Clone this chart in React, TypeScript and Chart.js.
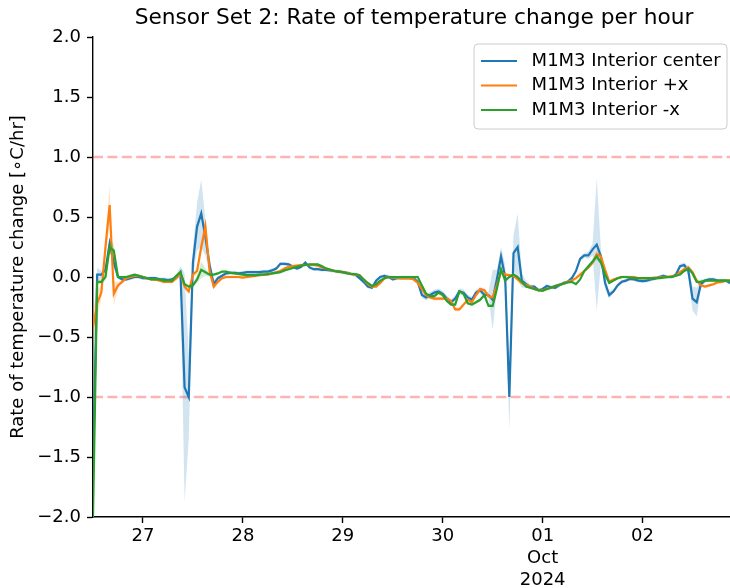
import React, { useEffect, useRef } from 'react';
import { Chart, registerables } from 'chart.js';

Chart.register(...registerables);

// Time axis: day numbers counted from September (Oct 1 = 31). First sample Sep 26 12:00, hourly.
const START_DAY = 26.5;
const STEP_HOURS = 1;

const centerRate = [
  -1.6, 0.02, 0.02, 0.06, 0.28, 0.12, 0.0, -0.02, -0.02, -0.01, 0.0, 0.0,
  -0.01, -0.01, -0.01, -0.01, -0.02, -0.02, -0.025, -0.02, 0.0, 0.04, -0.92, -1.0,
  0.12, 0.42, 0.53, 0.33, 0.1, -0.06, -0.01, 0.01, 0.03, 0.035, 0.035, 0.03,
  0.035, 0.04, 0.04, 0.04, 0.04, 0.045, 0.045, 0.055, 0.07, 0.11, 0.11, 0.105,
  0.085, 0.07, 0.085, 0.12, 0.08, 0.065, 0.065, 0.06, 0.06, 0.055, 0.05, 0.045,
  0.04, 0.035, 0.025, 0.02, -0.01, -0.04, -0.08, -0.09, -0.03, 0.0, 0.01, 0.0,
  -0.02, -0.01, -0.01, -0.01, -0.01, -0.01, -0.04, -0.15, -0.17, -0.15, -0.13, -0.12,
  -0.14, -0.18, -0.21, -0.18, -0.12, -0.13, -0.17, -0.19, -0.13, -0.11, -0.15, -0.15,
  -0.19, -0.02, 0.17, 0.0, -1.0, 0.2, 0.25, -0.03, -0.06, -0.08, -0.08, -0.11,
  -0.1, -0.075, -0.085, -0.09, -0.07, -0.05, -0.04, -0.01, 0.05, 0.15, 0.18, 0.18,
  0.23, 0.27, 0.17, -0.05, -0.15, -0.12, -0.07, -0.04, -0.03, -0.015, -0.02, -0.03,
  -0.035, -0.03, -0.02, -0.015, 0.0, 0.01, 0.0, 0.0, 0.02, 0.09, 0.1, 0.05,
  -0.18, -0.21, -0.06, -0.03, -0.02, -0.02, -0.03, -0.03, -0.03, -0.05,
];
const centerStd = [
  0.35, 0.06, 0.03, 0.04, 0.06, 0.04, 0.015, 0.015, 0.015, 0.015, 0.015, 0.015,
  0.015, 0.015, 0.015, 0.015, 0.015, 0.015, 0.015, 0.015, 0.02, 0.05, 0.95, 0.35,
  0.12, 0.2, 0.28, 0.15, 0.05, 0.03, 0.015, 0.015, 0.015, 0.015, 0.015, 0.015,
  0.015, 0.015, 0.015, 0.015, 0.015, 0.015, 0.015, 0.015, 0.015, 0.015, 0.015, 0.015,
  0.015, 0.015, 0.015, 0.015, 0.015, 0.015, 0.015, 0.015, 0.015, 0.015, 0.015, 0.015,
  0.015, 0.015, 0.015, 0.015, 0.015, 0.015, 0.015, 0.015, 0.015, 0.015, 0.015, 0.015,
  0.015, 0.015, 0.015, 0.015, 0.015, 0.015, 0.02, 0.025, 0.025, 0.025, 0.025, 0.025,
  0.025, 0.025, 0.025, 0.025, 0.025, 0.025, 0.025, 0.025, 0.025, 0.025, 0.025, 0.025,
  0.25, 0.08, 0.08, 0.1, 0.28, 0.15, 0.28, 0.06, 0.03, 0.015, 0.015, 0.015,
  0.015, 0.015, 0.015, 0.015, 0.015, 0.015, 0.015, 0.015, 0.015, 0.02, 0.02, 0.03,
  0.05, 0.55, 0.06, 0.05, 0.03, 0.015, 0.015, 0.015, 0.015, 0.015, 0.015, 0.015,
  0.015, 0.015, 0.015, 0.015, 0.015, 0.015, 0.015, 0.015, 0.015, 0.02, 0.02, 0.04,
  0.1, 0.12, 0.04, 0.015, 0.015, 0.015, 0.015, 0.015, 0.015, 0.015,
];

const plusXRate = [
  -0.42, -0.22, -0.13, 0.25, 0.6, -0.14, -0.07, -0.04, -0.01, 0.0, 0.01, 0.01,
  0.0, -0.01, -0.02, -0.02, -0.03, -0.04, -0.04, -0.04, -0.01, 0.03, -0.08, -0.12,
  0.02, 0.05, 0.25, 0.42, 0.05, -0.08, -0.04, -0.01, 0.0, 0.0, 0.0, 0.0,
  -0.005, 0.0, 0.005, 0.01, 0.015, 0.02, 0.02, 0.03, 0.04, 0.05, 0.07, 0.085,
  0.09, 0.095, 0.1, 0.1, 0.1, 0.1, 0.095, 0.08, 0.07, 0.06, 0.05, 0.045,
  0.04, 0.035, 0.025, 0.02, 0.015, -0.02, -0.06, -0.08, -0.08, -0.05, -0.01, 0.0,
  -0.005, -0.005, -0.01, -0.01, -0.01, -0.02, -0.05, -0.1, -0.15, -0.17, -0.18, -0.18,
  -0.18, -0.18, -0.2, -0.27, -0.27, -0.23, -0.19, -0.21, -0.15, -0.1, -0.11, -0.16,
  -0.17, -0.07, 0.04, 0.02, 0.015, 0.01, -0.02, -0.05, -0.07, -0.08, -0.1, -0.11,
  -0.11, -0.1, -0.09, -0.075, -0.065, -0.055, -0.04, -0.03, -0.01, 0.02, 0.05, 0.08,
  0.12, 0.19, 0.17, 0.06, -0.04, -0.02, -0.01, 0.0, 0.0, 0.0, 0.0, -0.01,
  -0.01, -0.01, -0.01, -0.005, -0.005, 0.0, 0.0, 0.005, 0.01, 0.04, 0.065, 0.08,
  0.04, -0.03, -0.07, -0.08, -0.07, -0.06, -0.045, -0.04, -0.03, -0.03,
];
const plusXStd = [
  0.15, 0.12, 0.06, 0.1, 0.16, 0.1, 0.03, 0.012, 0.012, 0.012, 0.012, 0.012,
  0.012, 0.012, 0.012, 0.012, 0.012, 0.012, 0.012, 0.012, 0.012, 0.012, 0.02, 0.02,
  0.02, 0.03, 0.05, 0.08, 0.04, 0.02, 0.012, 0.012, 0.012, 0.012, 0.012, 0.012,
  0.012, 0.012, 0.012, 0.012, 0.012, 0.012, 0.012, 0.012, 0.012, 0.012, 0.012, 0.012,
  0.012, 0.012, 0.012, 0.012, 0.012, 0.012, 0.012, 0.012, 0.012, 0.012, 0.012, 0.012,
  0.012, 0.012, 0.012, 0.012, 0.012, 0.012, 0.012, 0.012, 0.012, 0.012, 0.012, 0.012,
  0.012, 0.012, 0.012, 0.012, 0.012, 0.012, 0.012, 0.015, 0.015, 0.015, 0.015, 0.015,
  0.015, 0.015, 0.015, 0.015, 0.015, 0.015, 0.015, 0.015, 0.015, 0.015, 0.015, 0.015,
  0.015, 0.015, 0.015, 0.015, 0.012, 0.012, 0.012, 0.012, 0.012, 0.012, 0.012, 0.012,
  0.012, 0.012, 0.012, 0.012, 0.012, 0.012, 0.012, 0.012, 0.012, 0.012, 0.012, 0.015,
  0.02, 0.03, 0.03, 0.02, 0.012, 0.012, 0.012, 0.012, 0.012, 0.012, 0.012, 0.012,
  0.012, 0.012, 0.012, 0.012, 0.012, 0.012, 0.012, 0.012, 0.012, 0.012, 0.012, 0.015,
  0.015, 0.015, 0.012, 0.012, 0.012, 0.012, 0.012, 0.012, 0.012, 0.012,
];

const minusXRate = [
  -2.0, -0.04, -0.04, 0.0, 0.25, 0.22, 0.0, 0.0, 0.0, 0.01, 0.02, 0.01,
  0.0, -0.01, -0.02, -0.02, -0.02, -0.03, -0.03, -0.03, 0.01, 0.04, -0.06, -0.08,
  -0.07, -0.02, 0.06, 0.04, 0.02, 0.02, 0.03, 0.045, 0.045, 0.035, 0.03, 0.025,
  0.02, 0.015, 0.015, 0.015, 0.02, 0.02, 0.025, 0.03, 0.035, 0.04, 0.055, 0.065,
  0.075, 0.085, 0.095, 0.1, 0.105, 0.105, 0.105, 0.09, 0.07, 0.06, 0.05, 0.045,
  0.04, 0.03, 0.025, 0.025, 0.015, -0.02, -0.05, -0.075, -0.06, -0.03, -0.01, 0.0,
  0.0, 0.0, 0.0, 0.0, 0.0, 0.0, 0.0, -0.07, -0.14, -0.16, -0.16, -0.13,
  -0.15, -0.2, -0.23, -0.23, -0.12, -0.14, -0.22, -0.23, -0.21, -0.19, -0.15, -0.24,
  -0.24, -0.1, 0.065, -0.03, 0.0, 0.02, 0.0, -0.04, -0.08, -0.09, -0.1, -0.11,
  -0.115, -0.1, -0.09, -0.075, -0.065, -0.055, -0.045, -0.04, -0.06, -0.02, 0.05, 0.09,
  0.13, 0.17, 0.12, 0.02, -0.05, -0.03, -0.01, 0.0, 0.0, -0.005, -0.01, -0.01,
  -0.01, -0.01, -0.01, -0.01, -0.01, -0.005, 0.0, 0.0, 0.01, 0.02, 0.05, 0.07,
  0.03, -0.04, -0.04, -0.03, -0.03, -0.03, -0.03, -0.03, -0.03, -0.03,
];
const minusXStd = [
  0.1, 0.02, 0.02, 0.03, 0.06, 0.05, 0.015, 0.01, 0.01, 0.01, 0.01, 0.01,
  0.01, 0.01, 0.01, 0.01, 0.01, 0.01, 0.01, 0.01, 0.01, 0.01, 0.015, 0.015,
  0.02, 0.03, 0.07, 0.03, 0.015, 0.01, 0.01, 0.01, 0.01, 0.01, 0.01, 0.01,
  0.01, 0.01, 0.01, 0.01, 0.01, 0.01, 0.01, 0.01, 0.01, 0.01, 0.01, 0.01,
  0.01, 0.01, 0.01, 0.01, 0.01, 0.01, 0.01, 0.01, 0.01, 0.01, 0.01, 0.01,
  0.01, 0.01, 0.01, 0.01, 0.01, 0.01, 0.01, 0.01, 0.01, 0.01, 0.01, 0.01,
  0.01, 0.01, 0.01, 0.01, 0.01, 0.01, 0.01, 0.012, 0.012, 0.012, 0.012, 0.012,
  0.012, 0.012, 0.012, 0.012, 0.012, 0.012, 0.012, 0.012, 0.012, 0.012, 0.012, 0.012,
  0.012, 0.012, 0.02, 0.015, 0.01, 0.01, 0.01, 0.01, 0.01, 0.01, 0.01, 0.01,
  0.01, 0.01, 0.01, 0.01, 0.01, 0.01, 0.01, 0.01, 0.01, 0.01, 0.01, 0.015,
  0.02, 0.03, 0.02, 0.015, 0.01, 0.01, 0.01, 0.01, 0.01, 0.01, 0.01, 0.01,
  0.01, 0.01, 0.01, 0.01, 0.01, 0.01, 0.01, 0.01, 0.01, 0.01, 0.01, 0.01,
  0.01, 0.01, 0.01, 0.01, 0.01, 0.01, 0.01, 0.01, 0.01, 0.01,
];

const seriesNames = ['M1M3 Interior center', 'M1M3 Interior +x', 'M1M3 Interior -x'];
const seriesColors = ['#1f77b4', '#ff7f0e', '#2ca02c'];
const bandColors = ['rgba(31,119,180,0.2)', 'rgba(255,127,14,0.2)', 'rgba(44,160,44,0.2)'];

const limitLines = [1, -1];
const xTickValues = [27, 28, 29, 30, 31, 32];
const xTickLabels: (string | string[])[] = ['27', '28', '29', '30', ['01', 'Oct', '2024'], '02'];
const yTickValues = [-2, -1.5, -1, -0.5, 0, 0.5, 1, 1.5, 2];

const TITLE = 'Sensor Set 2: Rate of temperature change per hour';
const Y_LABEL = 'Rate of temperature change [\u2218C/hr]';
const FONT = '"DejaVu Sans", sans-serif';

export default function App() {
  const ref = useRef<HTMLCanvasElement | null>(null);

  useEffect(() => {
    document.body.style.margin = '0';
    const canvas = ref.current;
    if (!canvas) return;

    const times = centerRate.map((_, i) => START_DAY + (i * STEP_HOURS) / 24);
    const endDay = times[times.length - 1];
    const pts = (vals: number[]) => vals.map((v, i) => ({ x: times[i], y: v }));
    const lo = (vals: number[], sd: number[]) => vals.map((v, i) => ({ x: times[i], y: v - sd[i] }));
    const hi = (vals: number[], sd: number[]) => vals.map((v, i) => ({ x: times[i], y: v + sd[i] }));

    const series = [
      [centerRate, centerStd],
      [plusXRate, plusXStd],
      [minusXRate, minusXStd],
    ];

    const datasets: any[] = [];
    limitLines.forEach((lv) => {
      datasets.push({
        label: 'limit',
        data: [{ x: START_DAY, y: lv }, { x: endDay, y: lv }],
        borderColor: 'rgba(255,0,0,0.3)',
        borderWidth: 2.7,
        borderDash: [10, 4.4],
        pointRadius: 0,
        fill: false,
        order: 20,
      });
    });
    series.forEach(([vals, sd], k) => {
      const baseOrder = 12 - k * 3;
      datasets.push({
        label: 'band-lo',
        data: lo(vals, sd),
        borderWidth: 0,
        borderColor: 'rgba(0,0,0,0)',
        pointRadius: 0,
        fill: false,
        order: baseOrder + 1,
      });
      datasets.push({
        label: 'band-hi',
        data: hi(vals, sd),
        borderWidth: 0,
        borderColor: 'rgba(0,0,0,0)',
        backgroundColor: bandColors[k],
        pointRadius: 0,
        fill: '-1',
        order: baseOrder + 1,
      });
      datasets.push({
        label: seriesNames[k],
        data: pts(vals),
        borderColor: seriesColors[k],
        borderWidth: 2.2,
        pointRadius: 0,
        fill: false,
        tension: 0,
        order: baseOrder,
      });
    });

    const textPlugin = {
      id: 'textPlugin',
      afterDraw(chart: any) {
        const ctx = chart.ctx;
        ctx.save();
        ctx.fillStyle = '#000';
        // title
        ctx.font = `21.7px ${FONT}`;
        ctx.textAlign = 'center';
        ctx.textBaseline = 'middle';
        ctx.fillText(TITLE, 414, 18);
        // y label
        ctx.save();
        ctx.translate(18, 277);
        ctx.rotate(-Math.PI / 2);
        ctx.font = `18px ${FONT}`;
        ctx.fillText(Y_LABEL, 0, 0);
        ctx.restore();
        // legend
        const bx = 474, by = 44, bw = 253, bh = 85, r = 4;
        ctx.beginPath();
        ctx.moveTo(bx + r, by);
        ctx.lineTo(bx + bw - r, by);
        ctx.quadraticCurveTo(bx + bw, by, bx + bw, by + r);
        ctx.lineTo(bx + bw, by + bh - r);
        ctx.quadraticCurveTo(bx + bw, by + bh, bx + bw - r, by + bh);
        ctx.lineTo(bx + r, by + bh);
        ctx.quadraticCurveTo(bx, by + bh, bx, by + bh - r);
        ctx.lineTo(bx, by + r);
        ctx.quadraticCurveTo(bx, by, bx + r, by);
        ctx.closePath();
        ctx.fillStyle = 'rgba(255,255,255,0.8)';
        ctx.fill();
        ctx.strokeStyle = 'rgb(204,204,204)';
        ctx.lineWidth = 1;
        ctx.stroke();
        const rows = [61, 85.5, 110];
        ctx.font = `18px ${FONT}`;
        ctx.textAlign = 'left';
        seriesNames.forEach((name, k) => {
          ctx.beginPath();
          ctx.moveTo(481, rows[k]);
          ctx.lineTo(517, rows[k]);
          ctx.strokeStyle = seriesColors[k];
          ctx.lineWidth = 2.2;
          ctx.stroke();
          ctx.fillStyle = '#000';
          ctx.fillText(name, 531.6, rows[k]);
        });
        ctx.restore();
      },
    };

    const chart = new Chart(canvas, {
      type: 'line',
      data: { datasets },
      options: {
        animation: false,
        responsive: false,
        devicePixelRatio: 1,
        layout: { padding: { top: 37, left: 0, right: 0, bottom: 0 } },
        plugins: {
          legend: { display: false },
          title: { display: false },
          tooltip: { enabled: false },
        },
        scales: {
          x: {
            type: 'linear',
            min: START_DAY,
            max: endDay,
            afterBuildTicks: (scale: any) => {
              scale.ticks = xTickValues.map((v) => ({ value: v }));
            },
            afterFit: (scale: any) => {
              scale.height = 71;
            },
            ticks: {
              autoSkip: false,
              maxRotation: 0,
              minRotation: 0,
              padding: 3,
              color: '#000',
              font: { family: FONT, size: 18, lineHeight: 1.2 },
              callback: (value: any) => {
                const idx = xTickValues.indexOf(Number(value));
                return idx >= 0 ? xTickLabels[idx] : '';
              },
            },
            grid: {
              drawOnChartArea: false,
              drawTicks: true,
              tickLength: 6,
              tickColor: '#000',
              tickWidth: 1.4,
            },
            border: { display: true, color: '#000', width: 1.4 },
          },
          y: {
            type: 'linear',
            min: -2,
            max: 2,
            afterBuildTicks: (scale: any) => {
              scale.ticks = yTickValues.map((v) => ({ value: v }));
            },
            afterFit: (scale: any) => {
              scale.width = 93;
            },
            ticks: {
              padding: 6,
              color: '#000',
              font: { family: FONT, size: 18 },
              callback: (value: any) => Number(value).toFixed(1).replace('-', '\u2212'),
            },
            grid: {
              drawOnChartArea: false,
              drawTicks: true,
              tickLength: 6,
              tickColor: '#000',
              tickWidth: 1.4,
            },
            border: { display: true, color: '#000', width: 1.4 },
          },
        },
      },
      plugins: [textPlugin],
    } as any);

    return () => {
      chart.destroy();
    };
  }, []);

  return (
    <div style={{ width: 730, height: 588 }}>
      <canvas ref={ref} width={730} height={588} style={{ display: 'block' }} />
    </div>
  );
}
